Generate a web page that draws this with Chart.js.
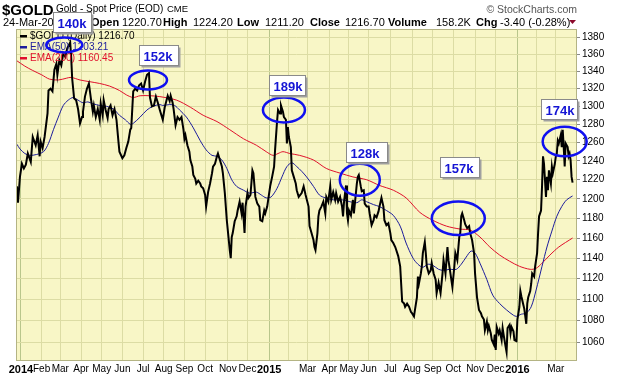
<!DOCTYPE html>
<html>
<head>
<meta charset="utf-8">
<script src="https://cdn.jsdelivr.net/npm/chart.js@4.4.0/dist/chart.umd.min.js"></script>
<style>
  html, body { margin: 0; padding: 0; background: #fff; }
  #wrap { width: 620px; height: 376px; }
</style>
</head>
<body>
<div id="wrap"><canvas id="goldChart" width="620" height="376"></canvas></div>
<script>
// trading-day index (0 = first session of Jan 2014) and daily close
const goldDays = [-4,-3,-1,1,3,5,7,10,12,15,17,19,20,22,24,27,28,30,32,34,36,37,39,41,43,45,47,50,51,52,54,56,58,60,62,63,65,67,69,71,73,74,76,78,80,81,83,84,86,88,89,91,93,95,97,99,100,103,105,107,109,111,112,114,116,118,120,122,124,126,128,130,131,133,135,137,139,141,144,146,149,151,152,154,155,157,159,161,163,165,166,167,169,171,172,174,175,177,178,180,182,183,185,187,188,190,192,194,195,197,199,200,202,204,205,207,209,210,212,213,214,215,217,219,220,222,224,225,227,228,230,231,233,235,236,238,240,242,243,245,247,248,250,252,253,255,257,258,260,261,263,264,266,267,269,270,271,272,274,275,277,279,280,282,285,287,289,292,293,295,297,298,299,301,302,303,305,307,309,310,312,314,315,317,319,320,322,324,326,327,328,330,331,332,333,335,337,338,339,341,342,343,345,346,348,349,351,353,354,356,358,359,361,363,364,366,368,369,371,373,375,376,378,380,381,383,385,386,387,389,390,392,394,396,397,399,400,402,403,404,406,407,408,410,411,412,414,416,417,419,421,422,424,426,428,429,431,433,434,436,438,440,441,443,445,446,447,448,450,451,453,455,456,458,460,461,463,465,467,468,470,471,473,474,475,477,478,480,481,482,483,485,486,488,489,490,492,493,494,496,497,498,500,501,503,504,506,507,508,510,511,513,514,515,517,518,519,521,522,524,525,526,528,529,530,531,533,534,535,536,538,539,540,542,543,544,545,546,548,549,550,551,552,553,555,556,557,558,559,560];
const goldClose = [1213,1196,1223,1237,1232,1236,1248,1239,1266,1257,1268,1245,1261,1254,1266,1292,1318,1320,1317,1342,1349,1336,1353,1347,1361,1357,1367,1374,1357,1332,1309,1307,1297,1281,1288,1294,1311,1320,1326,1309,1294,1301,1288,1297,1285,1303,1290,1307,1296,1287,1297,1301,1290,1297,1285,1261,1250,1243,1246,1254,1261,1274,1276,1317,1320,1318,1324,1326,1318,1328,1336,1338,1310,1300,1301,1311,1304,1296,1285,1299,1312,1306,1312,1304,1297,1279,1288,1285,1288,1274,1264,1268,1257,1250,1241,1234,1225,1221,1216,1219,1216,1213,1211,1204,1192,1207,1216,1227,1234,1237,1245,1248,1241,1234,1227,1206,1178,1168,1148,1140,1161,1165,1177,1182,1188,1197,1185,1196,1165,1192,1206,1201,1204,1230,1227,1202,1195,1192,1178,1177,1188,1185,1192,1206,1213,1223,1234,1252,1283,1296,1292,1301,1294,1288,1285,1259,1277,1266,1255,1230,1223,1216,1209,1202,1206,1213,1204,1192,1172,1165,1158,1151,1148,1165,1182,1188,1192,1197,1185,1202,1197,1213,1199,1207,1199,1206,1197,1202,1192,1182,1197,1214,1185,1178,1188,1183,1199,1185,1195,1216,1223,1225,1213,1208,1209,1195,1192,1192,1185,1173,1178,1183,1181,1187,1192,1201,1192,1178,1173,1175,1165,1158,1155,1151,1148,1142,1132,1115,1098,1096,1093,1096,1093,1088,1087,1084,1090,1102,1122,1115,1125,1132,1145,1156,1145,1132,1125,1128,1135,1125,1119,1106,1116,1106,1125,1138,1125,1151,1138,1125,1112,1132,1145,1138,1161,1165,1182,1185,1178,1174,1170,1172,1165,1158,1145,1125,1102,1090,1087,1084,1081,1071,1079,1071,1075,1068,1062,1058,1067,1053,1074,1068,1071,1062,1073,1067,1056,1051,1073,1076,1068,1074,1070,1062,1061,1081,1093,1108,1103,1095,1091,1077,1096,1102,1108,1115,1125,1122,1132,1145,1165,1182,1188,1213,1245,1237,1202,1223,1209,1230,1216,1234,1227,1237,1245,1248,1262,1259,1268,1255,1274,1255,1234,1259,1255,1245,1248,1241,1223,1217];

const ema50Days = [-4,-1,4,9,16,23,28,33,38,43,48,53,58,63,68,73,80,87,94,100,106,111,114,121,128,134,141,144,151,156,161,168,175,182,188,194,199,204,209,214,219,226,232,239,244,249,254,260,265,270,275,280,285,290,297,303,309,317,326,334,341,346,351,358,364,371,378,385,391,398,403,408,413,418,424,429,435,442,447,452,457,461,466,473,479,486,493,500,503,508,513,518,523,529,534,539,544,549,554,560];
const ema50Values = [1258,1253,1248,1246,1247,1250,1259,1274,1288,1301,1307,1310,1307,1304,1305,1303,1301,1300,1297,1290,1285,1280,1281,1288,1296,1300,1302,1301,1302,1301,1296,1288,1276,1262,1252,1246,1245,1241,1232,1220,1213,1209,1206,1207,1204,1201,1202,1211,1223,1234,1238,1234,1229,1223,1213,1204,1201,1199,1199,1197,1196,1199,1197,1194,1192,1188,1183,1172,1155,1140,1134,1131,1134,1133,1129,1128,1129,1129,1134,1141,1147,1145,1135,1119,1104,1096,1090,1085,1084,1086,1087,1093,1109,1132,1151,1167,1182,1192,1199,1203];

const ema200Days = [-5,4,12,21,29,38,46,51,60,70,80,90,100,107,114,121,131,141,158,172,185,199,212,226,239,249,256,261,266,273,283,297,310,324,337,351,364,378,391,405,418,432,446,456,466,476,486,496,506,517,523,529,537,546,560];
const ema200Values = [1353,1346,1341,1336,1331,1330,1332,1333,1330,1328,1326,1323,1318,1313,1310,1312,1312,1311,1307,1299,1290,1283,1274,1264,1257,1250,1246,1248,1250,1248,1246,1241,1232,1227,1223,1220,1214,1209,1201,1186,1178,1172,1169,1168,1161,1151,1143,1137,1132,1129,1130,1135,1143,1151,1160];

// month gridlines and their labels ('' = label dropped)
const monthStartDays = [0,21,40,61,82,103,124,145,166,187,210,230,252,272,291,313,333,353,375,397,418,439,461,482,504,523,543];
const monthLabels = ['2014','Feb','Mar','Apr','May','Jun','Jul','Aug','Sep','Oct','Nov','Dec','2015','','Mar','Apr','May','Jun','Jul','Aug','Sep','Oct','Nov','Dec','2016','','Mar'];
const yearLabels = ['2014','2015','2016'];
const priceTicks = [1060,1080,1100,1120,1140,1160,1180,1200,1220,1240,1260,1280,1300,1320,1340,1360,1380];

// volume call-outs: text, day and price of the circled spot
const noteTexts = ['140k','152k','189k','128k','157k','174k'];
const noteDays = [44,129,267,344,444,552];
const notePrices = [1371,1330,1296,1220,1180,1261];

// ellipse radii and box offsets (px) for each call-out
const noteLayout = [
  {rx: 18, ry: 7.5, bx: -11.5, by: -33, bw: 38},
  {rx: 19, ry: 9.5, bx: -9, by: -34.5, bw: 39},
  {rx: 21, ry: 12.5, bx: -15, by: -35, bw: 36},
  {rx: 20, ry: 16, bx: -14, by: -38, bw: 41},
  {rx: 26.5, ry: 16.7, bx: -18.5, by: -61, bw: 39},
  {rx: 22, ry: 14.7, bx: -24, by: -43, bw: 36}
];

// quote line of the header: text, bold?, x
const quoteRuns = [
  ['24-Mar-2016', false, 3], ['Open', true, 91], ['1220.70', false, 122],
  ['High', true, 163], ['1224.20', false, 193], ['Low', true, 237], ['1211.20', false, 265],
  ['Close', true, 310], ['1216.70', false, 345], ['Volume', true, 388], ['158.2K', false, 436],
  ['Chg', true, 476], ['-3.40 (-0.28%)', false, 500]
];

const FONT = "'Liberation Sans', Arial, sans-serif";
const plotBg = '#f8f6c6';
const gridCol = '#dcdca4';
const yearGridCol = '#b9c68c';

function toPoints(xs, ys) {
  return xs.map((x, i) => ({x: x, y: ys[i]}));
}

const backdrop = {
  id: 'backdrop',
  beforeDraw(chart) {
    const {ctx, chartArea: a} = chart;
    ctx.save();
    ctx.fillStyle = '#fff';
    ctx.fillRect(0, 0, chart.width, chart.height);
    ctx.fillStyle = plotBg;
    ctx.fillRect(a.left, a.top, a.right - a.left, a.bottom - a.top);
    ctx.restore();
  }
};

const overlay = {
  id: 'overlay',
  afterDraw(chart) {
    const {ctx, chartArea: a} = chart;
    const xs = chart.scales.x, ys = chart.scales.y;
    ctx.save();
    // plot frame
    ctx.strokeStyle = '#b4b484';
    ctx.lineWidth = 1;
    ctx.strokeRect(a.left + 0.5, a.top + 0.5, a.right - a.left - 1, a.bottom - a.top);

    // legend inside plot
    const leg = [
      {text: '$GOLD (Daily) 1216.70', color: '#000'},
      {text: 'EMA(50) 1203.21', color: '#1c1c9c'},
      {text: 'EMA(200) 1160.45', color: '#e0102c'}
    ];
    ctx.textBaseline = 'alphabetic';
    leg.forEach((l, i) => {
      const y = 39 + i * 11;
      ctx.fillStyle = l.color;
      ctx.fillRect(20, y - 4, 7, 2.5);
      ctx.font = '10px ' + FONT;
      ctx.fillText(l.text, 30, y);
    });

    // header
    ctx.fillStyle = '#000';
    ctx.font = 'bold 15px ' + FONT;
    ctx.fillText('$GOLD', 2, 15);
    ctx.font = '10px ' + FONT;
    ctx.fillText('Gold - Spot Price (EOD)', 56, 12);
    ctx.font = '9.5px ' + FONT;
    ctx.fillText('CME', 167, 12);
    quoteRuns.forEach(r => {
      ctx.font = (r[1] ? 'bold 11px ' : '11px ') + FONT;
      ctx.fillText(r[0], r[2], 26);
    });
    ctx.fillStyle = '#8c0a2c';
    ctx.beginPath();
    ctx.moveTo(569, 20); ctx.lineTo(576, 20); ctx.lineTo(572.5, 24);
    ctx.closePath(); ctx.fill();
    ctx.font = '10.5px ' + FONT;
    ctx.fillStyle = '#555';
    ctx.textAlign = 'right';
    ctx.fillText('\u00a9 StockCharts.com', 577, 13);
    ctx.textAlign = 'left';

    // volume call-outs
    noteTexts.forEach((t, i) => {
      const cx = xs.getPixelForValue(noteDays[i]);
      const cy = ys.getPixelForValue(notePrices[i]);
      const L = noteLayout[i];
      ctx.strokeStyle = '#1010f0';
      ctx.lineWidth = 2.5;
      ctx.beginPath();
      ctx.ellipse(cx, cy, L.rx, L.ry, 0, 0, Math.PI * 2);
      ctx.stroke();
      const bx = Math.round(cx + L.bx) + 0.5, by = Math.round(cy + L.by) + 0.5;
      ctx.fillStyle = '#a0a0a0';
      ctx.fillRect(bx + 2, by + 2, L.bw, 20);
      ctx.fillStyle = '#fff';
      ctx.fillRect(bx, by, L.bw, 20);
      ctx.strokeStyle = '#8a8a8a';
      ctx.lineWidth = 1;
      ctx.strokeRect(bx, by, L.bw, 20);
      ctx.font = 'bold 13px ' + FONT;
      ctx.fillStyle = '#1414d4';
      ctx.fillText(t, bx + 4, by + 15);
    });
    ctx.restore();
  }
};

new Chart(document.getElementById('goldChart'), {
  type: 'line',
  data: {
    datasets: [
      {label: '$GOLD (Daily)', data: toPoints(goldDays, goldClose), borderColor: '#000', borderWidth: 2, pointRadius: 0, tension: 0},
      {label: 'EMA(50)', data: toPoints(ema50Days, ema50Values), borderColor: '#1c1c9c', borderWidth: 1, pointRadius: 0, tension: 0.3},
      {label: 'EMA(200)', data: toPoints(ema200Days, ema200Values), borderColor: '#e0102c', borderWidth: 1, pointRadius: 0, tension: 0.3}
    ]
  },
  options: {
    responsive: false,
    animation: false,
    devicePixelRatio: 1,
    layout: {padding: {left: 16, top: 29, right: 0, bottom: 0}},
    plugins: {legend: {display: false}, tooltip: {enabled: false}},
    scales: {
      x: {
        type: 'linear', min: -5, max: 564.5, bounds: 'data',
        afterBuildTicks: s => { s.ticks = monthStartDays.map(v => ({value: v})); },
        afterFit: s => { s.height = 16; },
        border: {display: false},
        grid: {
          drawTicks: false,
          color: c => (c.tick && yearLabels.includes(monthLabels[monthStartDays.indexOf(c.tick.value)])) ? yearGridCol : gridCol
        },
        ticks: {
          autoSkip: false, maxRotation: 0, padding: 3, color: '#000',
          font: c => (c.tick && yearLabels.includes(c.tick.label)) ? {family: FONT, size: 11, weight: 'bold'} : {family: FONT, size: 10},
          callback: (v, i) => monthLabels[i]
        }
      },
      y: {
        type: 'logarithmic', position: 'right', min: 1043.8, max: 1390, bounds: 'data',
        afterBuildTicks: s => { s.ticks = priceTicks.map(v => ({value: v})); },
        afterFit: s => { s.width = 43; },
        border: {display: false},
        grid: {color: gridCol, tickLength: 3, tickColor: '#888'},
        ticks: {padding: 2, color: '#000', font: {family: FONT, size: 10}, callback: v => String(v)}
      }
    }
  },
  plugins: [backdrop, overlay]
});
</script>
</body>
</html>
